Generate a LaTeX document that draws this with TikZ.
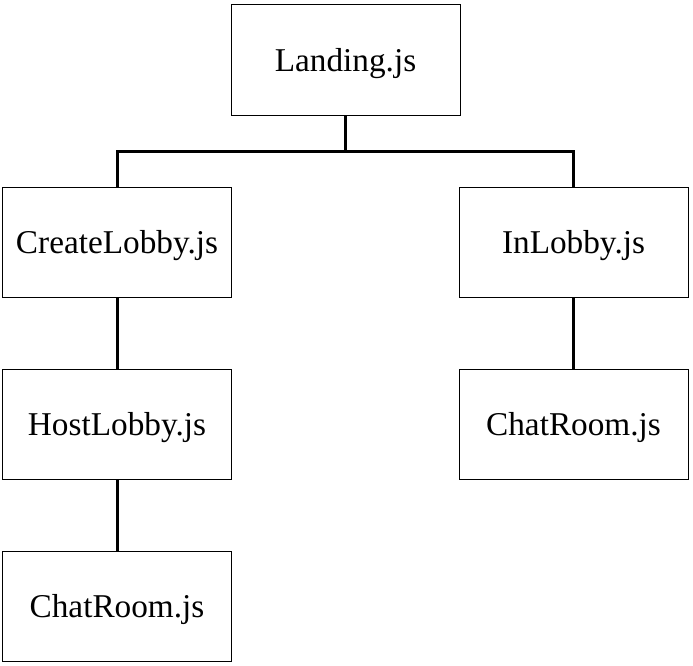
\documentclass[tikz,border=0pt]{standalone}
\usepackage{fontspec}
\setmainfont{Liberation Serif}
\tikzset{
  filebox/.style={draw, line width=0.030000cm, minimum width=6.870000cm, minimum height=3.300000cm, inner sep=0pt, text height=0.750000cm, text depth=0.090000cm, font=\fontsize{28.4}{33}\selectfont},
  link/.style={line width=0.090000cm}
}
\begin{document}
\begin{tikzpicture}
                \useasboundingbox (0.000000,0.000000) rectangle (20.790000,-19.950000);
                
                % Marking file Landing by box
                \node [filebox] (landing) at (10.365000,-1.800000) {Landing.js};%
                
                % Marking files of the first level by boxes
                \node [filebox] (create) at (3.510000,-7.275000) {CreateLobby.js};%
                \node [filebox] (inlobby) at (17.205000,-7.275000) {InLobby.js};%
                
                % Marking files of the second level by boxes
                \node [filebox] (host) at (3.510000,-12.720000) {HostLobby.js};%
                \node [filebox] (chatright) at (17.205000,-12.720000) {ChatRoom.js};%
                
                % Marking file of the third level by box
                \node [filebox] (chatleft) at (3.510000,-18.195000) {ChatRoom.js};%
                
                % Drawing branch Landing to first level
                \coordinate (bar) at (10.365000,-4.530000);%
                \draw [link] (landing.south) -- (bar);%
                \draw [link] (create.north) |- (bar) -| (inlobby.north);%
                
                % Drawing segments down to the lower levels
                \draw [link] (create.south) -- (host.north);%
                \draw [link] (host.south) -- (chatleft.north);%
                \draw [link] (inlobby.south) -- (chatright.north);%
            \end{tikzpicture}
\end{document}
